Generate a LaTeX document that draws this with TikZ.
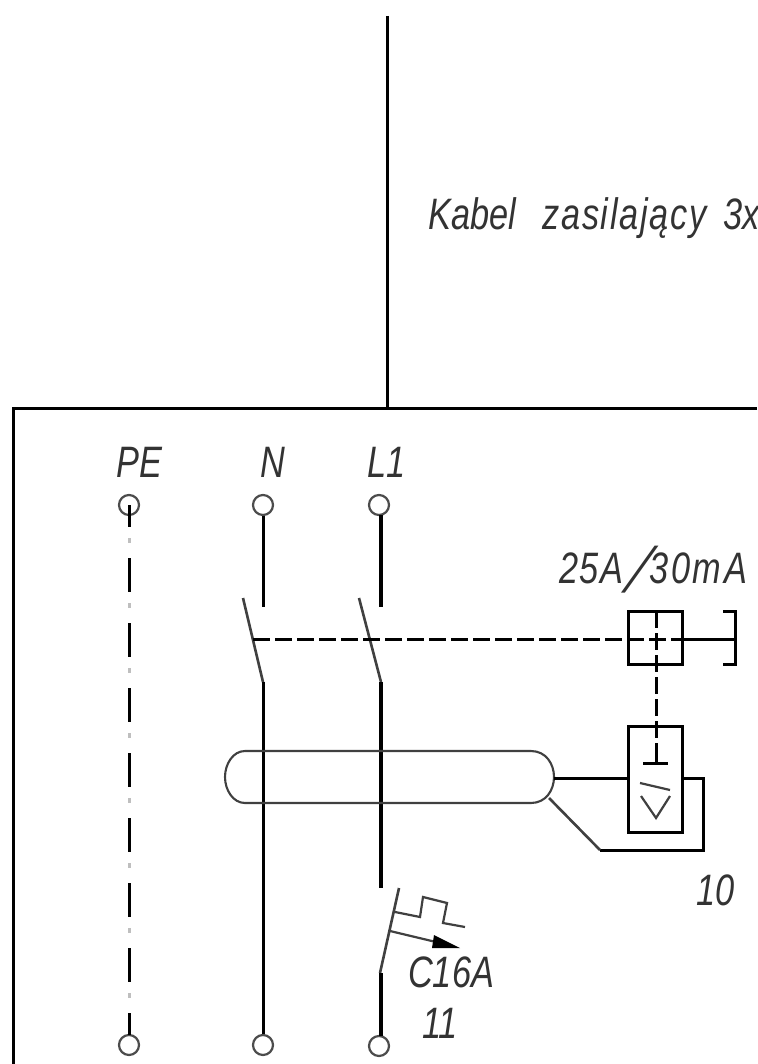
\documentclass[tikz,border=0pt]{standalone}
\usepackage{fontspec}
\setmainfont{Liberation Sans}
\newfontfamily\slashfont[FakeSlant=0.45]{Liberation Sans}
\usetikzlibrary{calc}
\tikzset{
  wire/.style={draw=black,line width=3pt},
  heavy/.style={draw=black,line width=3.8pt},
  thinw/.style={draw=black!75,line width=2.2pt},
  dashw/.style={draw=black,line width=3pt,dash pattern=on 17pt off 5pt},
  terminal/.style={circle,draw=black!70,line width=2.2pt,minimum size=20pt,inner sep=0pt,fill=white},
  lbl/.style={anchor=base west,inner sep=0pt,font=\fontsize{44}{44}\selectfont\itshape,text=black!80,xscale=.78}
}
\begin{document}
\begin{tikzpicture}[x=1pt,y=-1pt]
\clip (0,0) rectangle (757,1064);
\fill[white] (0,0) rectangle (757,1064);
% terminals
\node[terminal] (peT) at (129,505) {};
\node[terminal] (nT) at (263,505) {};
\node[terminal] (lT) at (379,505) {};
\node[terminal] (peB) at (129,1045) {};
\node[terminal] (nB) at (263,1045) {};
\node[terminal] (lB) at (379,1046) {};
% supply
\coordinate (cabTop) at (387,16);
\coordinate (cabBot) at (387,408);
\draw[wire] (cabTop) -- (cabBot);
\draw[wire] (13,1064) -- (13,408) -- (757,408);
% PE
\coordinate (peS) at (129,505);
\coordinate (peE) at (129,1035);
\draw[black,line width=3pt,dash pattern=on 34pt off 31pt,dash phase=12pt] (peS) -- (peE);
\draw[black!25,line width=3pt,dash pattern=on 5pt off 60pt,dash phase=0pt] (129,538) -- (peE);
% N
\coordinate (nU) at (263,607);
\coordinate (nBa) at (243,598);
\coordinate (nBb) at (263,682);
\draw[wire] (nT) -- (nU);
\draw[thinw,line width=2.6pt] (nBa) -- (nBb);
\draw[wire] (nBb) -- (nB);
% L1
\coordinate (lU) at (381,607);
\coordinate (lBa) at (359,598);
\coordinate (lBb) at (381,682);
\coordinate (lMid) at (381,888);
\coordinate (cBa) at (399,888);
\coordinate (cBb) at (380,973);
\draw[heavy] (381,515) -- (lU);
\draw[thinw,line width=2.6pt] (lBa) -- (lBb);
\draw[heavy] (lBb) -- (lMid);
\draw[thinw,line width=2.6pt] (cBa) -- (cBb);
\draw[heavy] (381,973) -- (381,1036);
% overcurrent trip
\draw[thinw] (395,912) -- (420,917) -- (423,897) -- (447,903) -- (443,923) -- (465,927);
\draw[thinw] (390,931) -- (436,942);
\fill[black] (460,948) -- (434,935) -- (432,948) -- cycle;
% RCD
\coordinate (rcdA) at (628,611);
\coordinate (rcdB) at (682,664);
\draw[wire] (rcdA) rectangle (rcdB);
\draw[wire] (682,639) -- (735,639);
\draw[wire] (723,611) -- (735,611) -- (735,664) -- (723,664);
\draw[dashw] (253,639) -- (682,639);
\draw[dashw] (656,611) -- (656,745);
\draw[wire] (656,745) -- (656,763);
\draw[wire] (643,763) -- (668,763);
\coordinate (relA) at (628,726);
\coordinate (relB) at (682,832);
\draw[wire] (relA) rectangle (relB);
\draw[thinw] (640,783) -- (670,790);
\draw[thinw] (641,796) -- (656,818) -- (670,796);
% capsule
\draw[thinw,line width=2.1pt] (245,751) -- (531,751) .. controls (546,751) and (554,764) .. (554,777) .. controls (554,790) and (546,803) .. (531,803) -- (245,803) .. controls (233,803) and (225,790) .. (225,777) .. controls (225,764) and (233,751) .. (245,751) -- cycle;
\draw[wire] (554,778) -- (628,778);
\draw[wire] (682,778) -- (703,778) -- (703,850) -- (600,850);
\draw[thinw,line width=2.6pt] (600,850) -- (549,798);
% labels
\node[lbl] (tPE) at (116,477) {PE};
\node[lbl] (tN) at (260,477) {N};
\node[lbl] (tL) at (367,477) {L1};
\node[lbl] (tRcd) at (559,583) {\addfontfeature{LetterSpace=5}25A\hspace{1pt}\raisebox{-9pt}{\fontsize{64}{64}\slashfont /}\hspace{14pt}{\addfontfeature{LetterSpace=8}30mA}};
\node[lbl] (tTen) at (696,905) {10};
\node[lbl] (tC) at (408,987) {C16A};
\node[lbl] (tEl) at (422,1038) {11};
\node[lbl] (tKab) at (428,230) {Kabel\hspace{34pt}{\addfontfeature{LetterSpace=5}zasilający}\hspace{21pt}3x};
\end{tikzpicture}
\end{document}
